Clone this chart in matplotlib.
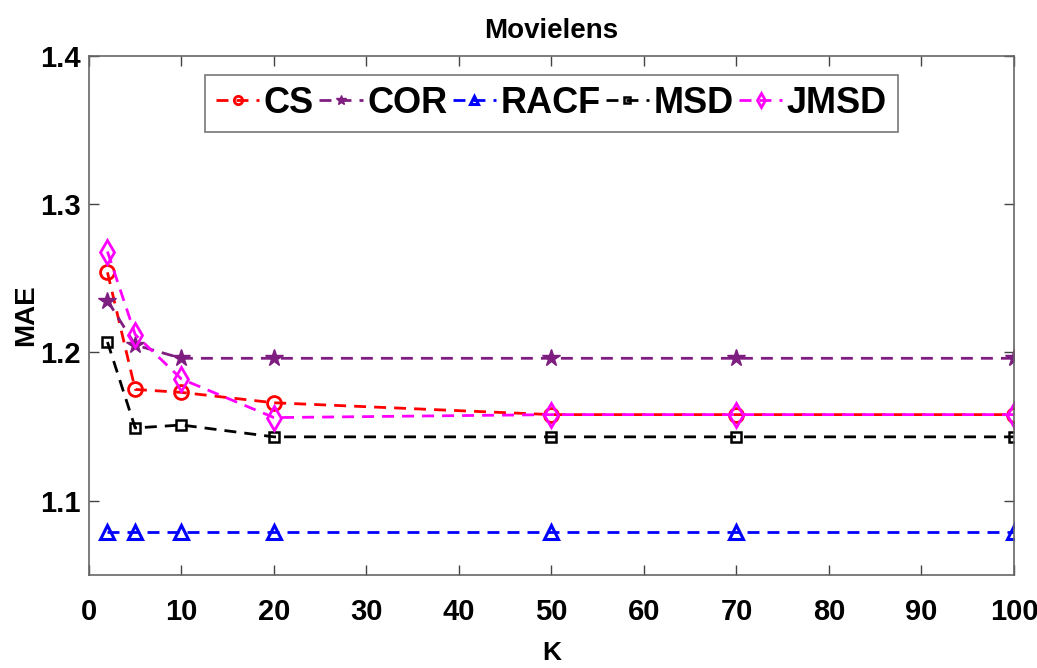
import matplotlib
matplotlib.use("Agg")
import matplotlib.pyplot as plt

plt.rcParams['font.family'] = ['Liberation Sans', 'DejaVu Sans']
plt.rcParams['font.weight'] = 'bold'

# Neighbourhood size K
k_values = [2, 5, 10, 20, 50, 70, 100]

# Mean absolute error for each similarity measure
mae_cs = [1.254, 1.175, 1.173, 1.166, 1.158, 1.158, 1.158]
mae_cor = [1.235, 1.205, 1.196, 1.196, 1.196, 1.196, 1.196]
mae_racf = [1.079, 1.079, 1.079, 1.079, 1.079, 1.079, 1.079]
mae_msd = [1.207, 1.149, 1.151, 1.143, 1.143, 1.143, 1.143]
mae_jmsd = [1.268, 1.212, 1.182, 1.156, 1.158, 1.158, 1.158]

series_names = ['CS', 'COR', 'RACF', 'MSD', 'JMSD']
x_ticks = [0, 10, 20, 30, 40, 50, 60, 70, 80, 90, 100]
y_ticks = [1.1, 1.2, 1.3, 1.4]
y_tick_labels = ['1.1', '1.2', '1.3', '1.4']

styles = [
    dict(color='#ff0000', marker='o', markersize=10, markerfacecolor='none', markeredgewidth=2),
    dict(color='#7e1e80', marker='*', markersize=13, markerfacecolor='#7e1e80', markeredgewidth=1),
    dict(color='#0000ff', marker='^', markersize=10, markerfacecolor='none', markeredgewidth=2.2),
    dict(color='#000000', marker='s', markersize=6.5, markerfacecolor='none', markeredgewidth=1.8),
    dict(color='#ff00ff', marker='d', markersize=12.5, markerfacecolor='none', markeredgewidth=2),
]
all_series = [mae_cs, mae_cor, mae_racf, mae_msd, mae_jmsd]

fig = plt.figure(figsize=(10.37, 6.68), dpi=100)
ax = fig.add_axes([0.0858, 0.1397, 0.892, 0.7765])

for name, values, st in zip(series_names, all_series, styles):
    ax.plot(k_values, values, linestyle=(0, (4.3, 2.9)), linewidth=2.0, label=name, **st)

ax.set_xlim(0, 100)
ax.set_ylim(1.05, 1.4)
ax.set_xticks(x_ticks)
ax.set_yticks(y_ticks)
ax.set_yticklabels(y_tick_labels)
ax.tick_params(direction='in', length=7, width=1, top=True, right=True,
               labelsize=21, color='#444444')
ax.tick_params(axis='y', pad=6)
ax.tick_params(axis='x', pad=17)
for lbl in ax.get_xticklabels() + ax.get_yticklabels():
    lbl.set_fontweight('bold')
for sp in ax.spines.values():
    sp.set_color('#666666')
    sp.set_linewidth(1.2)

ax.set_title('Movielens', fontsize=20, fontweight='bold', pad=13)
ax.set_xlabel('K', fontsize=19, fontweight='bold')
ax.xaxis.set_label_coords(0.5, -0.128)
ax.set_ylabel('MAE', fontsize=20, fontweight='bold')
ax.yaxis.set_label_coords(-0.054, 0.5)

leg = ax.legend(loc='upper center', bbox_to_anchor=(0.5, 0.963), ncol=5,
                fontsize=26, frameon=True, fancybox=False, handlelength=1.2,
                handletextpad=0.12, columnspacing=0.15, borderpad=0.3,
                borderaxespad=0, markerscale=0.6)
leg.get_frame().set_edgecolor('#555555')
leg.get_frame().set_linewidth(1.2)
for t in leg.get_texts():
    t.set_fontweight('bold')

fig.savefig('out.png', dpi=100)
